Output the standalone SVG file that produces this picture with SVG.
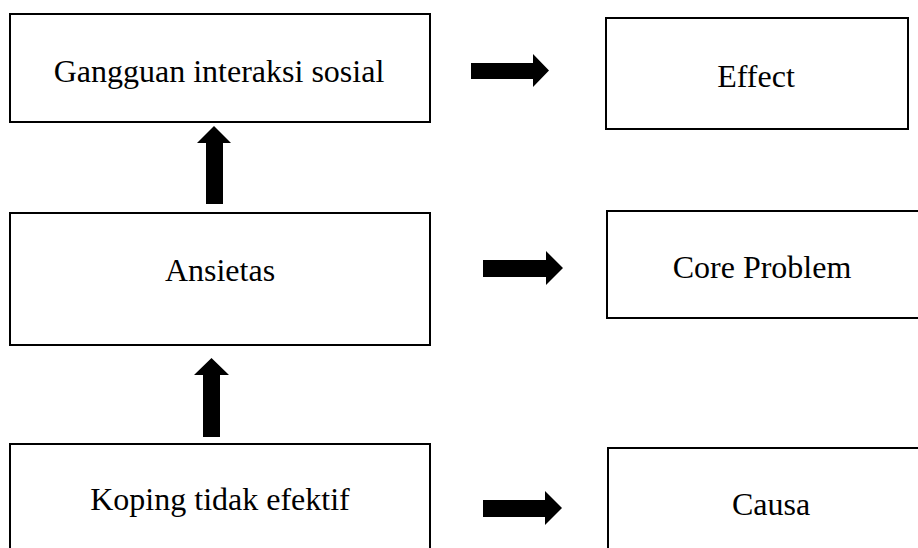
<svg xmlns="http://www.w3.org/2000/svg" width="918" height="548" viewBox="0 0 918 548">
<style>
.box{fill:#fff;stroke:#000;stroke-width:2}
.lbl{font-family:"Liberation Serif","Times New Roman",serif;font-size:32px;fill:#000;text-anchor:middle}
.arr{fill:#000}
</style>
<rect width="918" height="548" fill="#fff"/>
<g id="n-gangguan"><rect class="box" x="10" y="14" width="420" height="108"/><text class="lbl" x="219" y="82">Gangguan interaksi sosial</text></g>
<g id="n-ansietas"><rect class="box" x="10" y="213" width="420" height="132"/><text class="lbl" x="220" y="281">Ansietas</text></g>
<g id="n-koping"><rect class="box" x="10" y="444" width="420" height="130"/><text class="lbl" x="220" y="510">Koping tidak efektif</text></g>
<g id="n-effect"><rect class="box" x="606" y="18" width="302" height="111"/><text class="lbl" x="756" y="87">Effect</text></g>
<g id="n-core"><rect class="box" x="607" y="211" width="330" height="107"/><text class="lbl" x="762" y="278">Core Problem</text></g>
<g id="n-causa"><rect class="box" x="608" y="448" width="330" height="120"/><text class="lbl" x="771" y="515">Causa</text></g>
<g id="connectors">
<polygon class="arr" points="206,204 206,143 197,143 214,126 231,143 223,143 223,204"/>
<polygon class="arr" points="203,437 203,375 194,375 211.5,358 229,375 220,375 220,437"/>
<polygon class="arr" points="471,63 533,63 533,54 549,70.5 533,87 533,79 471,79"/>
<polygon class="arr" points="483,260 546,260 546,251 563,268 546,285 546,277 483,277"/>
<polygon class="arr" points="483,500 545,500 545,491 562,508 545,525 545,517 483,517"/>
</g>
</svg>
